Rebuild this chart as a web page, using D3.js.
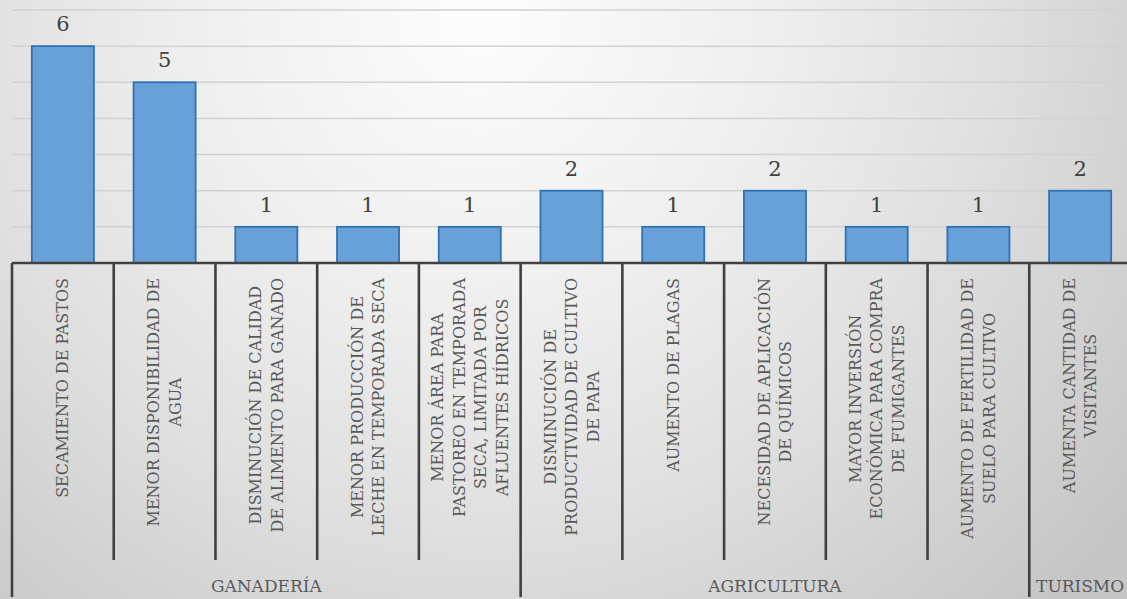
<!DOCTYPE html>
<html>
<head>
<meta charset="utf-8">
<script src="https://cdn.jsdelivr.net/npm/d3@7"></script>
<style>
  html, body { margin: 0; padding: 0; overflow: hidden; }
</style>
</head>
<body>
<div id="chart"></div>
<script>
// categories split into lines as they wrap in the picture
const categories = [
  ['SECAMIENTO DE PASTOS'],
  ['MENOR DISPONIBILIDAD DE', 'AGUA'],
  ['DISMINUCIÓN DE CALIDAD', 'DE ALIMENTO PARA GANADO'],
  ['MENOR PRODUCCIÓN DE', 'LECHE EN TEMPORADA SECA'],
  ['MENOR ÁREA PARA', 'PASTOREO EN TEMPORADA', 'SECA, LIMITADA POR', 'AFLUENTES HÍDRICOS'],
  ['DISMINUCIÓN DE', 'PRODUCTIVIDAD DE CULTIVO', 'DE PAPA'],
  ['AUMENTO DE PLAGAS'],
  ['NECESIDAD DE APLICACIÓN', 'DE QUÍMICOS'],
  ['MAYOR INVERSIÓN', 'ECONÓMICA PARA COMPRA', 'DE FUMIGANTES'],
  ['AUMENTO DE FERTILIDAD DE', 'SUELO PARA CULTIVO'],
  ['AUMENTA CANTIDAD DE', 'VISITANTES']
];
const values = [6, 5, 1, 1, 1, 2, 1, 2, 1, 1, 2];
const groups = ['GANADERÍA', 'AGRICULTURA', 'TURISMO'];
const groupSizes = [5, 5, 1];
const yTicks = [0, 1, 2, 3, 4, 5, 6, 7];

const width = 1127;
const height = 599;
const baseY = 263;
const font = 'DejaVu Serif';

const svg = d3.select('#chart')
  .append('svg')
  .attr('width', width)
  .attr('height', height)
  .attr('font-family', font)
  .style('display', 'block');

// *** background *** //
const grad = svg.append('defs').append('radialGradient')
  .attr('id', 'bg')
  .attr('gradientUnits', 'userSpaceOnUse')
  .attr('cx', 480).attr('cy', 10).attr('r', 820);
grad.append('stop').attr('offset', 0).attr('stop-color', '#fdfdfd');
grad.append('stop').attr('offset', 0.35).attr('stop-color', '#efefef');
grad.append('stop').attr('offset', 0.62).attr('stop-color', '#e0e0e0');
grad.append('stop').attr('offset', 1).attr('stop-color', '#c6c6c6');

svg.append('rect')
  .attr('width', width)
  .attr('height', height)
  .attr('fill', 'url(#bg)');

// *** scales *** //
const x = d3.scaleBand()
  .domain(d3.range(values.length))
  .range([12, 1131])
  .paddingInner(0.39)
  .paddingOuter(0.195);

const y = d3.scaleLinear()
  .domain([0, 7])
  .range([baseY, 10]);

const step = x.step();
const edge = i => x(i) - step * x.paddingInner() / 2;

// *** gridlines *** //
svg.append('g')
  .selectAll('line')
  .data(yTicks.filter(d => d > 0))
  .join('line')
  .attr('x1', 12)
  .attr('x2', width)
  .attr('y1', d => y(d))
  .attr('y2', d => y(d))
  .attr('stroke', '#d2d2d2')
  .attr('stroke-width', 1.5);

// *** bars *** //
svg.append('g')
  .selectAll('rect')
  .data(values)
  .join('rect')
  .attr('x', (d, i) => x(i))
  .attr('y', d => y(d))
  .attr('width', x.bandwidth())
  .attr('height', d => baseY - y(d))
  .attr('fill', '#67a1d8')
  .attr('stroke', '#2e72b3')
  .attr('stroke-width', 1.8);

// *** value labels *** //
svg.append('g')
  .selectAll('text')
  .data(values)
  .join('text')
  .attr('x', (d, i) => x(i) + x.bandwidth() / 2)
  .attr('y', d => y(d) - 15)
  .attr('text-anchor', 'middle')
  .attr('fill', '#404040')
  .attr('font-size', '21px')
  .text(d => d);

// *** axis and dividers *** //
const axisColor = '#404040';
svg.append('line')
  .attr('x1', 12).attr('x2', width)
  .attr('y1', baseY).attr('y2', baseY)
  .attr('stroke', axisColor)
  .attr('stroke-width', 2.6);

const groupStarts = [0];
groupSizes.forEach((s, i) => groupStarts.push(groupStarts[i] + s));

const dividers = d3.range(values.length).map(i => ({
  x: edge(i),
  long: groupStarts.includes(i)
}));

svg.append('g')
  .selectAll('line')
  .data(dividers)
  .join('line')
  .attr('x1', d => d.x).attr('x2', d => d.x)
  .attr('y1', baseY)
  .attr('y2', d => d.long ? 597 : 560)
  .attr('stroke', axisColor)
  .attr('stroke-width', 2.6);

// *** category labels *** //
const lineGap = 21.5;
const labels = svg.append('g')
  .selectAll('g')
  .data(categories)
  .join('g')
  .attr('transform', (d, i) => `translate(${x(i) + x.bandwidth() / 2}, 278) rotate(-90)`);

labels.each(function (lines) {
  const g = d3.select(this);
  const texts = g.selectAll('text')
    .data(lines)
    .join('text')
    .attr('text-anchor', 'middle')
    .attr('fill', '#595959')
    .attr('font-size', '16px')
    .attr('y', (d, k) => (k - (lines.length - 1) / 2) * lineGap)
    .attr('dy', '0.35em')
    .text(d => d);
  let maxLen = 0;
  texts.each(function () { maxLen = Math.max(maxLen, this.getComputedTextLength()); });
  texts.attr('x', -maxLen / 2);
});

// *** group labels *** //
svg.append('g')
  .selectAll('text')
  .data(groups)
  .join('text')
  .attr('x', (d, i) => (edge(groupStarts[i]) + (groupStarts[i + 1] < values.length ? edge(groupStarts[i + 1]) : 1131)) / 2)
  .attr('y', 592)
  .attr('text-anchor', 'middle')
  .attr('fill', '#595959')
  .attr('font-size', '17px')
  .text(d => d);
</script>
</body>
</html>
